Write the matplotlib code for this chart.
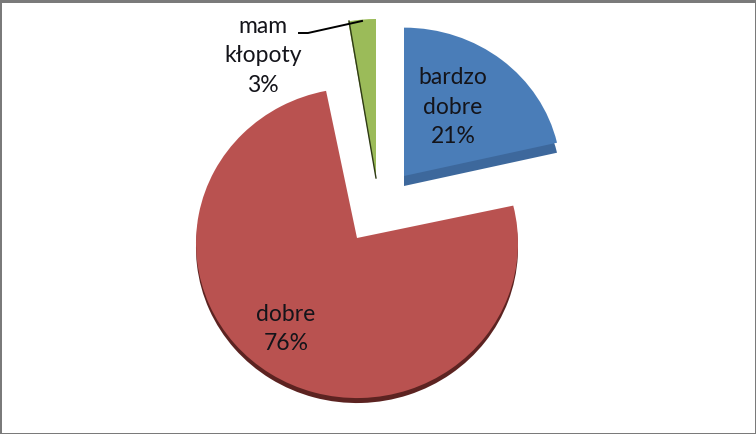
import matplotlib
matplotlib.use('Agg')
import matplotlib.pyplot as plt
from matplotlib.patches import Rectangle
from matplotlib.transforms import Affine2D

labels = ['bardzo\ndobre', 'dobre', 'mam\nkłopoty']
shares = [21.4, 75.8, 2.8]

colors = ['#4a7db8', '#b95250', '#9bbb59']
side_colors = ['#3d689c', '#5c2321', '#7c9647']
W, H = 756, 434

# where each slice was pulled to, pixels from top left
apex = [(404, 176), (357, 238), (376, 178)]
arc_drop = [0, 5, 0]   # the tilted rim sits a bit below the tip
radius = [157, 161, 159]
squash = [0.945, 0.963, 1.0]
depth = [10, 5, 0]
turn = [0, 1, 0]
label_pos = [(453, 107), (286, 329), (263, 56)]

plt.rcParams['font.family'] = ['Lato', 'DejaVu Sans']
fig = plt.figure(figsize=(W / 100, H / 100), dpi=100)
ax = fig.add_axes([0, 0, 1, 1])


def draw_slice(i, color, down, startangle):
    cx = apex[i][0]
    cy = H - apex[i][1] - arc_drop[i]
    wedges, _ = ax.pie([shares[i] / sum(shares)], normalize=False, colors=[color], startangle=startangle,
                       counterclock=False, radius=radius[i], center=(cx, cy))
    w = wedges[0]
    # move the tip back up to where it is in the picture
    w.get_path().vertices[-2:, 1] = cy + arc_drop[i] / squash[i]
    w.set_transform(Affine2D().translate(0, -cy).scale(1, squash[i]).translate(0, cy - down) + ax.transData)


angle = 90
for i in range(3):
    if depth[i] > 0:
        draw_slice(i, side_colors[i], depth[i], angle + turn[i])
    draw_slice(i, colors[i], 0, angle + turn[i])
    angle -= shares[i] / sum(shares) * 360

ax.set_xlim(0, W)
ax.set_ylim(0, H)
ax.set_aspect('auto')
ax.axis('off')

# dark edge on the small slice and the leader line
ax.plot([349, 376], [H - 21, H - 178], color='#2f3a16', lw=1.0)
ax.plot([299, 308, 362], [H - 33, H - 33, H - 21], color='black', lw=1.4)

for i in range(3):
    text = labels[i] + '\n' + str(round(shares[i])) + '%'
    ax.text(label_pos[i][0], H - label_pos[i][1], text, ha='center', va='center',
            fontsize=16.5, linespacing=1.5, color='#14141a')

# grey frame of the screenshot, thicker on top and left
grey = '#7a7a7a'
for x, y, w, h in [(0, 0, W, 3), (0, 0, 2, H), (0, H - 1, W, 1), (W - 1, 0, 1, H)]:
    fig.add_artist(Rectangle((x / W, 1 - (y + h) / H), w / W, h / H, transform=fig.transFigure,
                             color=grey, lw=0))

fig.savefig('out.png', dpi=100)
